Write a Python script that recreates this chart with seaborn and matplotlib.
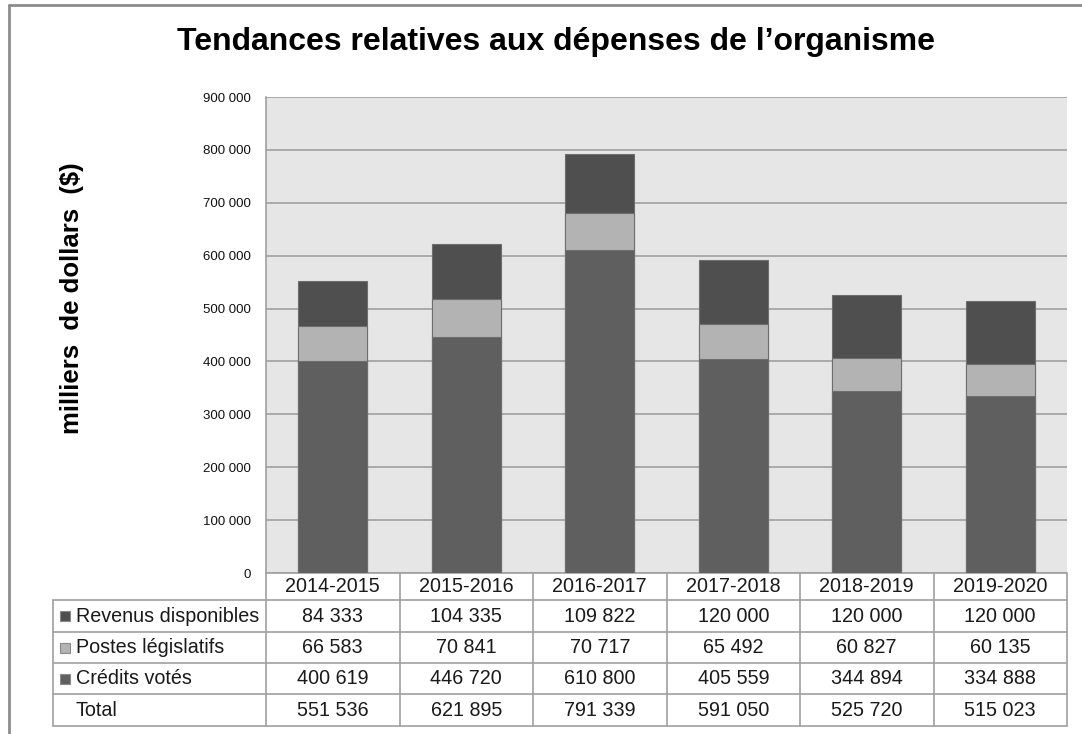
import matplotlib
matplotlib.use("Agg")
import matplotlib.pyplot as plt
import seaborn as sns
import pandas as pd
from matplotlib.lines import Line2D
from matplotlib.patches import Rectangle

years = ["2014-2015", "2015-2016", "2016-2017", "2017-2018", "2018-2019", "2019-2020"]
revenus = [84333, 104335, 109822, 120000, 120000, 120000]
postes = [66583, 70841, 70717, 65492, 60827, 60135]
credits = [400619, 446720, 610800, 405559, 344894, 334888]
totals = [551536, 621895, 791339, 591050, 525720, 515023]
y_ticks = [0, 100000, 200000, 300000, 400000, 500000, 600000, 700000, 800000, 900000]

series = [
    ("Revenus disponibles", revenus, "#4f4f4f"),
    ("Postes législatifs", postes, "#b3b3b3"),
    ("Crédits votés", credits, "#5f5f5f"),
]


def fmt(v):
    return f"{v:,}".replace(",", " ")


sns.set_style("white")
plt.rcParams["font.family"] = ["Liberation Sans", "DejaVu Sans"]

W, H = 1082, 734
fig = plt.figure(figsize=(W / 100, H / 100), dpi=100)
fig.patch.set_facecolor("white")

# plot area in pixels
left, right, top, bottom = 266, 1067, 97, 573
ax = fig.add_axes([left / W, (H - bottom) / H, (right - left) / W, (bottom - top) / H])
ax.set_facecolor("#e6e6e6")

df = pd.DataFrame({"year": years, "credits": credits, "postes": postes, "revenus": revenus})
df["lvl1"] = df["credits"]
df["lvl2"] = df["credits"] + df["postes"]
df["lvl3"] = df["lvl2"] + df["revenus"]

# stacked bars drawn as cumulative layers, top layer first
for col, color in [("lvl3", "#4f4f4f"), ("lvl2", "#b3b3b3"), ("lvl1", "#5f5f5f")]:
    sns.barplot(data=df, x="year", y=col, color=color, width=0.52, errorbar=None,
                edgecolor="#6e6e6e", linewidth=0.8, saturation=1, ax=ax, zorder=3)

ax.set_ylim(0, 900000)
ax.set_xlim(-0.5, 5.5)
ax.set_yticks(y_ticks)
ax.set_yticklabels([fmt(v) for v in y_ticks], fontsize=9.5, color="#111111")
ax.tick_params(axis="y", length=0, pad=11)
ax.set_xticks([])
ax.set_xlabel("")
ax.set_ylabel("")
ax.grid(axis="y", color="#a0a0a0", linewidth=1.2, zorder=0)
ax.set_axisbelow(True)
for s in ["top", "right", "bottom"]:
    ax.spines[s].set_visible(False)
ax.spines["left"].set_color("#a0a0a0")
ax.spines["left"].set_linewidth(1.2)

fig.text(556 / W, (H - 42) / H, "Tendances relatives aux dépenses de l’organisme",
         ha="center", va="center", fontsize=23, fontweight="bold", color="black")
fig.text(72 / W, (H - 298) / H, "milliers  de dollars  ($)", rotation=90,
         ha="center", va="center", fontsize=18.5, fontweight="bold", color="black")

# data table below the bars (pixel rows mapped to axes fraction)
tr = ax.get_xaxis_transform()
colw = (right - left) / 6


def yf(py):
    return -(py - bottom) / (bottom - top)


label_x0 = -0.5 - (left - 53) / colw
rows_px = [573, 600, 632, 663, 694, 726]
lc = "#a0a0a0"
lw = 1.2
# horizontal lines
ax.add_line(Line2D([-0.5, 5.5], [yf(573)] * 2, transform=tr, color=lc, lw=lw, clip_on=False))
for py in rows_px[1:]:
    ax.add_line(Line2D([label_x0, 5.5], [yf(py)] * 2, transform=tr, color=lc, lw=lw, clip_on=False))
# vertical lines
for i in range(7):
    ax.add_line(Line2D([i - 0.5] * 2, [yf(573), yf(726)], transform=tr, color=lc, lw=lw, clip_on=False))
ax.add_line(Line2D([label_x0] * 2, [yf(600), yf(726)], transform=tr, color=lc, lw=lw, clip_on=False))

fs = 14.2
tc = "#1a1a1a"
for i, yr in enumerate(years):
    ax.text(i, yf((573 + 600) / 2), yr, transform=tr, ha="center", va="center",
            fontsize=fs, color=tc, clip_on=False)

table_rows = [(n, v, c) for n, v, c in series] + [("Total", totals, None)]
for r, (name, vals, color) in enumerate(table_rows):
    yc = yf((rows_px[r + 1] + rows_px[r + 2]) / 2)
    tx = label_x0 + 0.17
    if color is not None:
        sq = 10 / colw
        ax.add_patch(Rectangle((label_x0 + 0.05, yc - 5 / (bottom - top)), sq, 10 / (bottom - top),
                               transform=tr, facecolor=color, edgecolor="#8a8a8a", lw=0.8,
                               clip_on=False))
    ax.text(tx, yc, name, transform=tr, ha="left", va="center", fontsize=fs,
            color=tc, clip_on=False)
    for i, v in enumerate(vals):
        ax.text(i, yc, fmt(v), transform=tr, ha="center", va="center", fontsize=fs,
                color=tc, clip_on=False)

# outer frame (top and left edges)
fig.add_artist(Line2D([9 / W, 1], [(H - 5) / H] * 2, color="#8c8c8c", lw=2))
fig.add_artist(Line2D([9 / W] * 2, [0, (H - 5) / H], color="#8c8c8c", lw=2))

fig.savefig("out.png", dpi=100)
plt.close(fig)
